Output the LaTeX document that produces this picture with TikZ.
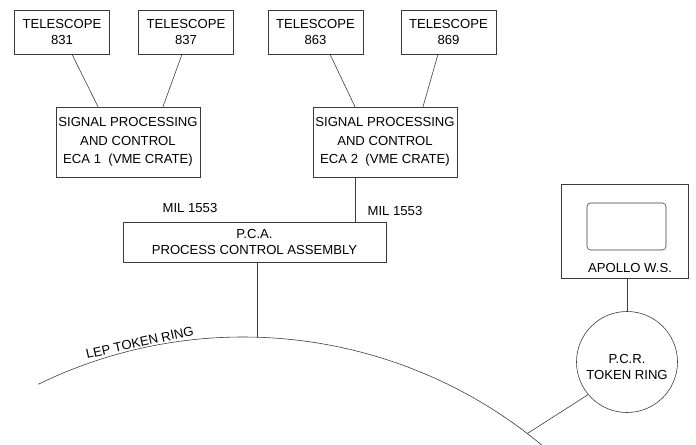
\documentclass[tikz,border=0pt]{standalone}
\usepackage{fontspec}
\setmainfont{Liberation Sans}
\usepackage{tikz}
\usetikzlibrary{calc}
\definecolor{lepline}{HTML}{3A3A3A}

\begin{document}
\begin{tikzpicture}[x=0.03cm, y=-0.03cm,
  font=\fontsize{11.2}{13.5}\selectfont,
  box/.style={rectangle, draw=lepline, line width=0.5pt, align=center, inner sep=0pt},
  scopebox/.style={box, minimum width=2.85cm, minimum height=1.32cm},
  ecabox/.style={box, minimum width=4.32cm, minimum height=2.1cm,
                 font=\fontsize{11.2}{16}\selectfont},
  link/.style={draw=lepline, line width=0.5pt},
  ring/.style={draw=lepline, line width=0.5pt}]
  \useasboundingbox (0,0) rectangle (696,444);
  % telescopes
  \node[scopebox] (tel831) at (62,32) {TELESCOPE\\831};
  \node[scopebox] (tel837) at (186,32) {TELESCOPE\\837};
  \node[scopebox] (tel863) at (315.5,32) {TELESCOPE\\863};
  \node[scopebox] (tel869) at (448.5,32) {TELESCOPE\\869};
  % crates
  \node[ecabox] (eca1) at (128,142) {SIGNAL PROCESSING\\AND CONTROL\\ECA 1\ \ (VME CRATE)};
  \node[ecabox] (eca2) at (385,142) {SIGNAL PROCESSING\\AND CONTROL\\ECA 2\ \ (VME CRATE)};
  \draw[link] ($(tel831.south)+(10,0)$) -- ($(eca1.north)+(-30,0)$);
  \draw[link] ($(tel837.south)+(-4,0)$) -- ($(eca1.north)+(35,0)$);
  \draw[link] ($(tel863.south)+(14.5,0)$) -- ($(eca2.north)+(-30,0)$);
  \draw[link] ($(tel869.south)+(-10.5,0)$) -- ($(eca2.north)+(38,0)$);
  % process control assembly
  \node[box, minimum width=7.89cm, minimum height=1.2cm] (pca) at (254.5,242)
       {P.C.A.\\PROCESS CONTROL ASSEMBLY};
  \node (mil1) at (190,208) {MIL 1553};
  \node (mil2) at (395,211) {MIL 1553};
  \draw[link] ($(eca2.south)+(-30,0)$) coordinate (m2) -- (m2 |- pca.north);
  % LEP token ring
  \coordinate (lepc) at (243,804);
  \draw[ring] ($(lepc)+(-116:467)$) arc[start angle=-116, end angle=-50, radius=467];
  \coordinate (lepA) at ($(lepc)+(-88.3:467)$);
  \coordinate (lepB) at ($(lepc)+(-52.5:467)$);
  \node[rotate=12.6] (leplbl) at ($(lepc)+(-102.6:473)$) {LEP TOKEN RING};
  \draw[link] (pca.south -| lepA) -- (lepA);
  % workstation
  \node[box, minimum width=3.81cm, minimum height=2.82cm] (apollo) at (624.5,231) {};
  \node[box, rounded corners=3pt, minimum width=2.37cm, minimum height=1.41cm] (screen) at (626.5,226.5) {};
  \node (apollolbl) at (630,268) {APOLLO W.S.};
  \node[circle, draw=lepline, line width=0.5pt, minimum size=3.03cm, inner sep=0pt]
       (pcr) at (627,362) {};
  \node[align=center] (pcrlbl) at ($(pcr)+(0,5)$) {P.C.R.\\TOKEN RING};
  \draw[link, line width=0.8pt] (apollo.south -| pcr.north) -- (pcr.north);
  \draw[link] (pcr.220) -- (lepB);
\end{tikzpicture}
\end{document}
